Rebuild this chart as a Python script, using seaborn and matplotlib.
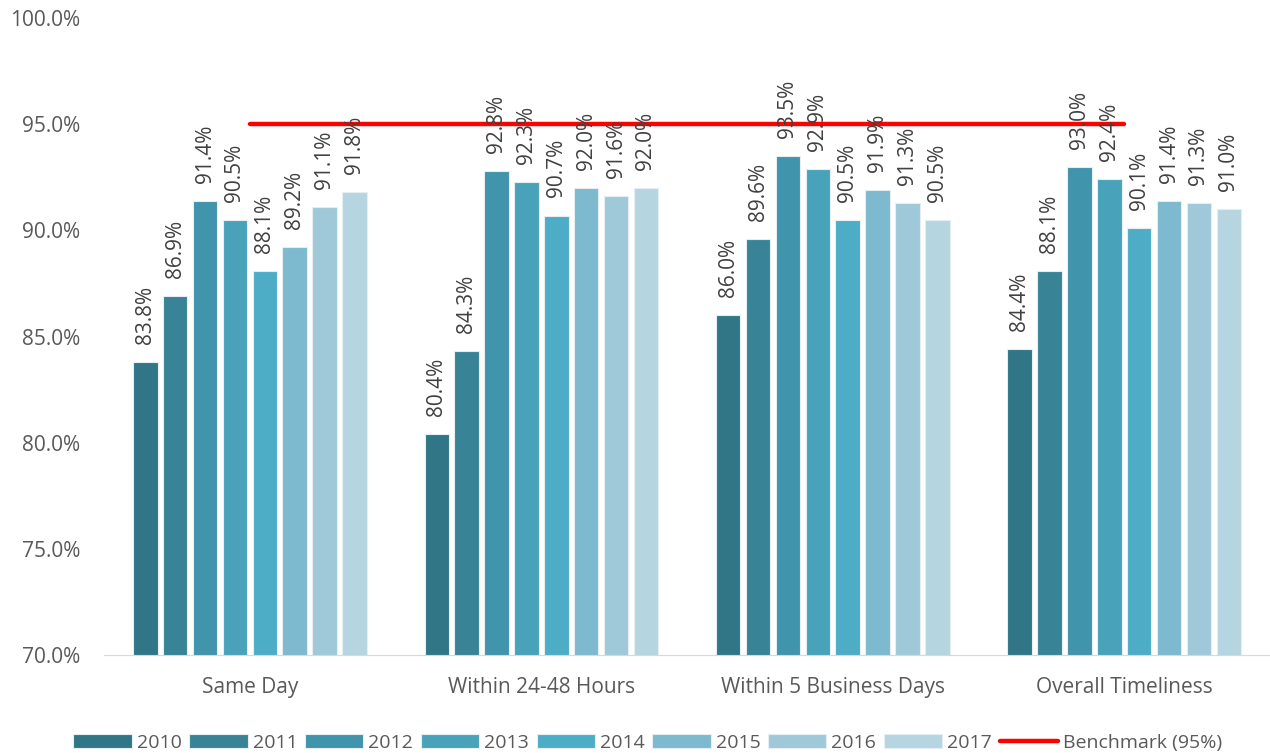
import matplotlib
matplotlib.use("Agg")
import matplotlib.pyplot as plt
from matplotlib.lines import Line2D
import seaborn as sns
import pandas as pd
import numpy as np

# Dados do grafico
categorias = ["Same Day", "Within 24-48 Hours", "Within 5 Business Days", "Overall Timeliness"]
anos = ["2010", "2011", "2012", "2013", "2014", "2015", "2016", "2017"]
same_day = [83.8, 86.9, 91.4, 90.5, 88.1, 89.2, 91.1, 91.8]
within_24_48 = [80.4, 84.3, 92.8, 92.3, 90.7, 92.0, 91.6, 92.0]
within_5_dias = [86.0, 89.6, 93.5, 92.9, 90.5, 91.9, 91.3, 90.5]
overall = [84.4, 88.1, 93.0, 92.4, 90.1, 91.4, 91.3, 91.0]
benchmark = [95.0, 95.0, 95.0, 95.0]

cores = ["#317687", "#388496", "#4094AC", "#47A2BA", "#4DADC7",
         "#7DB9CF", "#9FC9D9", "#B5D5E0"]

# Montando o dataframe no formato longo
linhas = []
for cat, valores in zip(categorias, [same_day, within_24_48, within_5_dias, overall]):
    for ano, v in zip(anos, valores):
        linhas.append({"categoria": cat, "ano": ano, "valor": v})
df = pd.DataFrame(linhas)

sns.set_style("white")
plt.rcParams["font.family"] = ["Open Sans", "DejaVu Sans"]
cor_texto = "#595959"

fig = plt.figure(figsize=(12.7, 7.53), dpi=100)
ax = fig.add_axes([0.082, 0.13, 0.918, 0.846])

sns.barplot(data=df, x="categoria", y="valor", hue="ano", order=categorias,
            hue_order=anos, palette=cores, width=0.82, gap=0.18,
            edgecolor="#E6EEF2", linewidth=0.8, saturation=1, ax=ax)

# Linha do benchmark
ax.plot(np.arange(len(categorias)), benchmark, color="#FF0000", linewidth=3.2,
        solid_capstyle="round", zorder=3)

# Rotulos das barras
for cont in ax.containers:
    ax.bar_label(cont, fmt="{:.1f}%", rotation=90, padding=13, fontsize=15,
                 color="#404040", zorder=5)

ax.set_ylim(70, 100)
ax.set_xlim(-0.5, 3.5)
ax.set_yticks(np.arange(70, 100.1, 5))
ax.set_yticklabels([f"{t:.1f}%" for t in np.arange(70, 100.1, 5)])
ax.set_xlabel("")
ax.set_ylabel("")
ax.tick_params(axis="both", length=0, labelsize=15, labelcolor=cor_texto)
ax.tick_params(axis="x", pad=16)
ax.tick_params(axis="y", pad=17)
for lado in ["top", "right", "left"]:
    ax.spines[lado].set_visible(False)
ax.spines["bottom"].set_color("#D9D9D9")

# Legenda
handles, labels = ax.get_legend_handles_labels()
ax.get_legend().remove()
handles.append(Line2D([0], [0], color="#FF0000", linewidth=3.2, solid_capstyle="round"))
labels.append("Benchmark (95%)")
fig.legend(handles, labels, loc="lower center", bbox_to_anchor=(0.51, -0.022),
           ncol=9, frameon=False, fontsize=14, handlelength=3.0, handleheight=0.75,
           handletextpad=0.25, columnspacing=0.4, labelcolor=cor_texto)

fig.savefig("out.png", dpi=100)
